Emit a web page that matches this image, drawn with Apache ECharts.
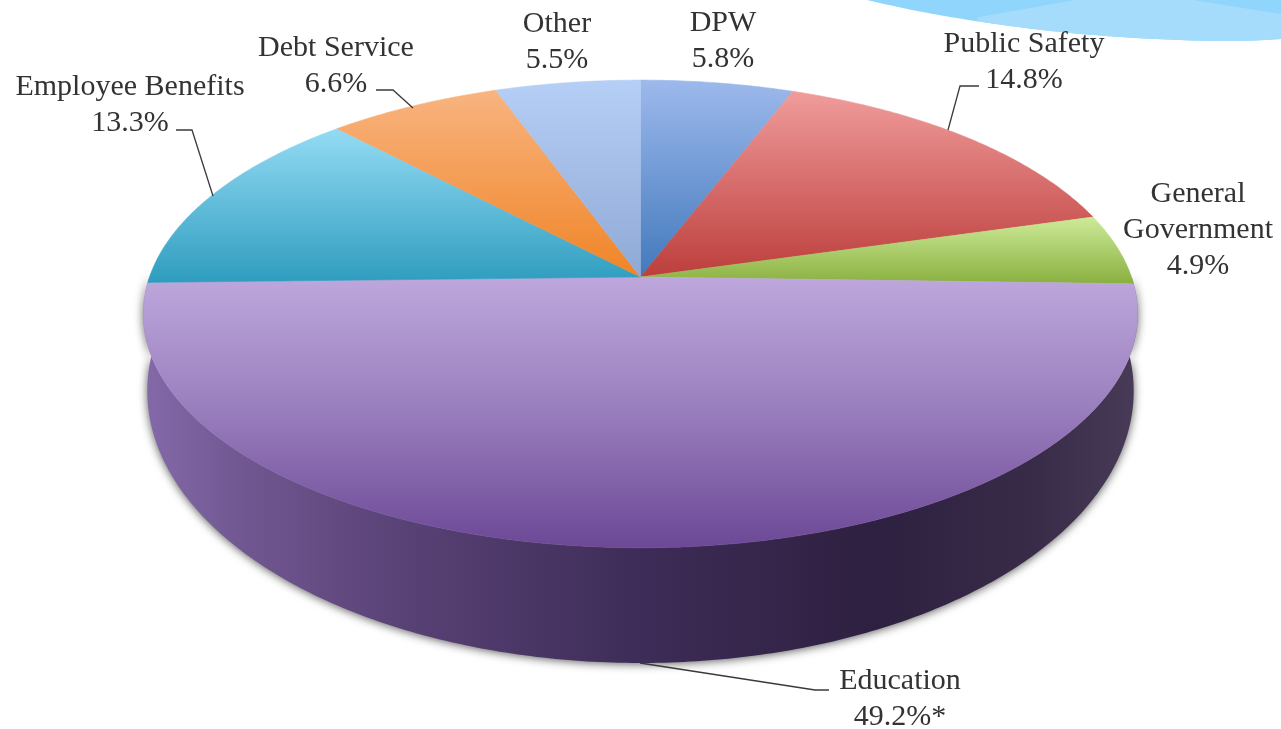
<!DOCTYPE html>
<html>
<head>
<meta charset="utf-8">
<style>html,body{margin:0;padding:0;background:#fff}#c{width:1281px;height:729px}</style>
<script src="https://cdn.jsdelivr.net/npm/echarts@6/dist/echarts.min.js"></script>
</head>
<body>
<div id="c"></div>
<script>
const categories = ['DPW','Public Safety','General Government','Education','Employee Benefits','Debt Service','Other'];
const values = [5.8,14.8,4.9,49.2,13.3,6.6,5.5];
const valueMarks = ['','','','*','','',''];

// ---- appearance, kept apart from the data ----
const topColors = [
  [[0,'#9DB9EC'],[1,'#4279BC']],
  [[0,'#F09C9C'],[1,'#BC3E3B']],
  [[0,'#CDEA98'],[1,'#8AB040']],
  [[0,'#BDA7DC'],[0.45,'#9D82C0'],[1,'#6C4896']],
  [[0,'#94DBF4'],[1,'#2F9DBF']],
  [[0,'#F8B480'],[1,'#F08426']],
  [[0,'#B6CFF6'],[1,'#8FA9D6']]
];
const labelLayout = [
  {x:723,y:22},{x:1024,y:43},{x:1198,y:193,wrap:true},{x:900,y:680},
  {x:130,y:86},{x:336,y:47},{x:557,y:23}
];
const leaderPaths = [
  null, [[979,86],[960,86],[948,130]], null, [[640,663],[815,690],[829,690]],
  [[176,130],[192,130],[213,196]], [[376,90],[393,90],[413,108]], null
];
const wallStops = [[0,'#8369A8'],[0.1,'#715791'],[0.25,'#5A4377'],[0.5,'#3D2C57'],[0.74,'#2E2040'],[0.9,'#392C48'],[1,'#483B58']];
const FONT = '"Liberation Serif", serif';

// projected disc: unit circle -> screen, with perspective
const P = -0.158;
const TOP = {cx:640.5, cy:277, A:491, B:228};
const BOTTOM = {cx:640.5, cy:348, A:487, B:265.2};
function project(d, t){
  const u = Math.sin(t), v = -Math.cos(t), w = 1 + P * v;
  return [d.cx + d.A * u / w, d.cy + d.B * v / w];
}
function arc(d, a0, a1){
  const pts = [], n = Math.max(8, Math.ceil((a1 - a0) * 90));
  for (let i = 0; i <= n; i++) pts.push(project(d, a0 + (a1 - a0) * i / n));
  return pts;
}
function grad(x0,y0,x1,y1,stops){
  return {type:'linear',global:true,x:x0,y:y0,x2:x1,y2:y1,
    colorStops:stops.map(s=>({offset:s[0],color:s[1]}))};
}
function cubic(p0,p1,p2,p3,n){
  const pts=[];
  for(let i=0;i<=n;i++){const t=i/n,s=1-t;
    pts.push([s*s*s*p0[0]+3*s*s*t*p1[0]+3*s*t*t*p2[0]+t*t*t*p3[0],
              s*s*s*p0[1]+3*s*s*t*p1[1]+3*s*t*t*p2[1]+t*t*t*p3[1]]);}
  return pts;
}

const total = values.reduce((a,b)=>a+b,0);
let run = 0;
const rows = values.map(v=>{ const r=[v, run/total, (run+v)/total]; run+=v; return r; });

function renderItem(params, api){
  const i = params.dataIndex;
  const a0 = api.value(1) * 2 * Math.PI, a1 = api.value(2) * 2 * Math.PI;
  const edge = arc(TOP, a0, a1);
  const ys = edge.map(p=>p[1]);
  // vertical shading runs from the slice's highest rim point to its lowest
  const yTop = Math.min.apply(null, ys.concat(TOP.cy));
  const yBot = Math.max.apply(null, ys.concat(TOP.cy));
  const fill = grad(0,yTop,0,yBot,topColors[i]);
  const children = [];
  // outer wall is only visible on the front half of the disc
  const fa0 = Math.max(a0, Math.PI/2), fa1 = Math.min(a1, Math.PI*3/2);
  if (fa1 > fa0) {
    const wallTop = arc(TOP, fa0, fa1), wallBot = arc(BOTTOM, fa0, fa1).reverse();
    children.push({type:'polygon', z2:0, shape:{points:wallTop.concat(wallBot)},
      style:{fill:grad(145,0,1137,0,wallStops), shadowBlur:10, shadowColor:'rgba(0,0,0,0.65)', shadowOffsetX:0, shadowOffsetY:1}});
  }
  children.push({type:'polygon', z2:1, shape:{points:[[TOP.cx,TOP.cy]].concat(edge)},
    style:{fill:fill, stroke:fill, lineWidth:0.6}});
  const L = labelLayout[i];
  const name = L.wrap ? categories[i].replace(' ','\n') : categories[i];
  children.push({type:'text', z2:3, x:L.x, y:L.y-16.5, style:{
    text:name+'\n'+api.value(0).toFixed(1)+'%'+valueMarks[i],
    font:'30px '+FONT, fill:'#333333', align:'center', verticalAlign:'top', lineHeight:36}});
  if (leaderPaths[i]) children.push({type:'polyline', z2:2, shape:{points:leaderPaths[i]},
    style:{fill:'none', stroke:'#3a3a3a', lineWidth:1.3}});
  return {type:'group', children:children};
}

const swooshEdge = cubic([867,0],[950,20],[1060,36],[1180,40],30).concat(cubic([1180,40],[1220,42],[1255,41],[1281,39],10));
const chart = echarts.init(document.getElementById('c'), null, {renderer:'canvas'});
chart.setOption({
  animation:false,
  backgroundColor:'#ffffff',
  graphic:{elements:[
    {type:'polygon', silent:true, z:-1, shape:{points:swooshEdge.concat([[1281,0]])}, style:{fill:'#90D5FB'}},
    {type:'polygon', silent:true, z:-1, shape:{points:[[977,17.5],[1075,0],[1193,0],[1281,14]].concat(swooshEdge.filter(p=>p[0]>977).reverse())}, style:{fill:'#A5DCFC'}}
  ]},
  series:[{type:'custom', coordinateSystem:'none', data:rows, renderItem:renderItem, silent:true}]
});
</script>
</body>
</html>
